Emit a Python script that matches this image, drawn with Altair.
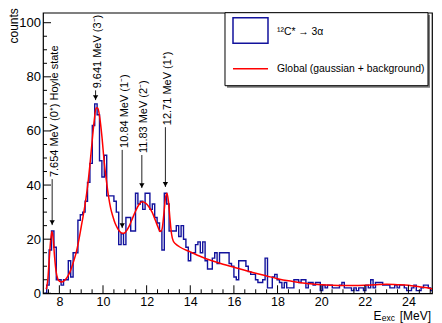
import altair as alt
import pandas as pd

# ---------------- data ----------------
bin_start = 7.31
bin_width = 0.11
counts = [0,
  3, 16, 23, 17, 5, 5, 3, 5, 5, 12,
  6, 15, 15, 27, 29, 30, 34, 41, 48, 62,
  70, 66, 49, 43, 51, 36, 36, 36, 34, 30,
  18, 22, 18, 28, 28, 23, 23, 37, 33, 34,
  31, 37, 37, 31, 33, 28, 26, 23, 16, 37,
  33, 23, 23, 23, 25, 21, 25, 20, 17, 12,
  15, 15, 18, 19, 15, 19, 12, 9, 9, 13,
  15, 11, 15, 15, 15, 15, 11, 10, 6, 5,
  12, 12, 12, 10, 8, 7, 7, 5, 4, 4,
  5, 13, 2, 2, 6, 7, 5, 4, 2, 4,
  2, 2, 2, 5, 5, 4, 5, 5, 2, 4,
  4, 3, 4, 4, 1, 3, 2, 3, 3, 2,
  2, 2, 3, 4, 2, 2, 2, 1, 2, 1,
  2, 2, 1, 3, 2, 5, 2, 4, 4, 4,
  3, 3, 3, 2, 2, 3, 2, 3, 3, 2,
  1, 1, 2, 3, 1, 1, 2, 3, 3, 2, 1]

fit_e = [7.40, 7.47, 7.54, 7.60, 7.66, 7.72, 7.78, 7.85, 7.92, 8.00,
         8.10, 8.20, 8.30, 8.40, 8.50, 8.60, 8.70, 8.80, 8.90, 9.00,
         9.10, 9.20, 9.30, 9.40, 9.50, 9.60, 9.68, 9.76, 9.85, 9.95,
         10.05, 10.15, 10.25, 10.35, 10.45, 10.55, 10.65, 10.75, 10.85, 10.95,
         11.05, 11.20, 11.35, 11.50, 11.65, 11.80, 11.95, 12.10, 12.25, 12.40,
         12.52, 12.62, 12.70, 12.78, 12.86, 12.93, 13.00, 13.07, 13.14, 13.22,
         13.32, 13.50, 14.00, 14.50, 15.00, 15.50, 16.00, 16.50, 17.00, 17.50,
         18.00, 18.50, 19.00, 19.50, 20.00, 20.50, 21.00, 21.50, 22.00, 22.50,
         23.00, 23.50, 24.00, 24.50, 25.00, 25.10]
fit_v = [1.5, 5, 13, 19.5, 22.8, 20, 13.5, 8, 5.5, 4.5,
         4.2, 4.5, 5.3, 6.5, 8.2, 10.5, 13, 16, 20, 24.5,
         29, 34, 40, 47.5, 56, 64, 68.5, 68.5, 65, 58,
         49, 42, 36, 31.5, 28.5, 26, 24.3, 23, 22.3, 22.2,
         22.8, 24.8, 27.7, 30.5, 32.8, 33.8, 33.3, 32, 30, 27,
         24.5, 22.8, 23.5, 28.5, 35, 37, 34, 27.5, 22, 19.3,
         18.3, 17.2, 15.3, 13.5, 12, 10.7, 9.6, 8.5, 7.4, 6.4,
         5.4, 4.6, 4.0, 3.5, 3.2, 3.0, 2.9, 2.9, 3.0, 3.2,
         3.3, 3.2, 3.0, 2.4, 1.8, 1.6]

arrow_e = [7.67, 9.66, 10.88, 11.78, 12.86]
arrow_top = [42.2, 75.0, 53.0, 51.1, 61.4]
arrow_tip = [25.2, 71.4, 24.1, 38.9, 39.3]
arrow_labels = ["7.654 MeV (0\u207a) Hoyle state", "9.641 MeV (3\u207b)",
                "10.84 MeV (1\u207b)", "11.83 MeV (2\u207b)", "12.71 MeV (1\u207a)"]

x_major = [8, 10, 12, 14, 16, 18, 20, 22, 24]
x_minor = [7.5, 8.5, 9, 9.5, 10.5, 11, 11.5, 12.5, 13, 13.5, 14.5, 15, 15.5,
           16.5, 17, 17.5, 18.5, 19, 19.5, 20.5, 21, 21.5, 22.5, 23, 23.5, 24.5, 25]
y_major = [0, 20, 40, 60, 80, 100]
y_minor = [5, 10, 15, 25, 30, 35, 45, 50, 55, 65, 70, 75, 85, 90, 95]

legend_labels = ["\u00b9\u00b2C* \u2192 3\u03b1", "Global (gaussian + background)"]

# ---------------- frames ----------------
edges = [round(bin_start + bin_width * i, 4) for i in range(len(counts) + 1)]
hist_df = pd.DataFrame({"E": edges, "N": counts + [counts[-1]]})
fit_df = pd.DataFrame({"E": fit_e, "F": fit_v})
arr_df = pd.DataFrame({"E": arrow_e, "top": arrow_top, "tip": arrow_tip, "label": arrow_labels})
xmaj_df = pd.DataFrame({"t": x_major})
xmin_df = pd.DataFrame({"t": x_minor})
ymaj_df = pd.DataFrame({"t": y_major})
ymin_df = pd.DataFrame({"t": y_minor})
one = pd.DataFrame({"k": [0]})

FONT = "Liberation Sans"
BLUE = "#12129c"
W, H = 389, 280.6
LX = W - 395  # legend shift relative to a 395-px wide plot

xs = alt.Scale(domain=[7.25, 25.08], nice=False, zero=False)
ys = alt.Scale(domain=[0, 103.7], nice=False, zero=False)
xaxis = alt.Axis(values=x_major, format="d", title=None, ticks=False, tickSize=0,
                 domain=False, grid=False, labelPadding=2, labelFontSize=12.5,
                 labelFont=FONT, labelColor="black")
yaxis = alt.Axis(values=y_major, format="d", title=None, ticks=False, tickSize=0,
                 domain=False, grid=False, labelPadding=2.5, labelFontSize=13,
                 labelFont=FONT, labelColor="black")

hist = alt.Chart(hist_df).mark_line(interpolate="step-after", color=BLUE,
                                    strokeWidth=1.4, clip=True).encode(
    x=alt.X("E:Q", scale=xs, axis=xaxis), y=alt.Y("N:Q", scale=ys, axis=yaxis))

fit = alt.Chart(fit_df).mark_line(interpolate="monotone", color="#ff0000",
                                  strokeWidth=1.5, clip=True).encode(
    x=alt.X("E:Q", scale=xs, axis=xaxis), y=alt.Y("F:Q", scale=ys, axis=yaxis))

arr_line = alt.Chart(arr_df).mark_rule(color="#222222", strokeWidth=1).encode(
    x=alt.X("E:Q", scale=xs, axis=xaxis), y=alt.Y("top:Q", scale=ys, axis=yaxis), y2="tip:Q")
arr_head = alt.Chart(arr_df).mark_point(shape="triangle-down", filled=True, color="black",
                                        size=28, opacity=1, yOffset=-2.6).encode(
    x=alt.X("E:Q", scale=xs, axis=xaxis), y=alt.Y("tip:Q", scale=ys, axis=yaxis))
arr_text = alt.Chart(arr_df).mark_text(angle=270, align="left", baseline="middle",
                                       fontSize=11, font=FONT, color="black",
                                       dx=2, dy=2.5).encode(
    x=alt.X("E:Q", scale=xs, axis=xaxis), y=alt.Y("top:Q", scale=ys, axis=yaxis),
    text="label:N")

xtick_maj = alt.Chart(xmaj_df).mark_rule(color="black", strokeWidth=1).encode(
    x=alt.X("t:Q", scale=xs, axis=xaxis), y=alt.value(H), y2=alt.value(H - 8))
xtick_min = alt.Chart(xmin_df).mark_rule(color="black", strokeWidth=1, clip=True).encode(
    x=alt.X("t:Q", scale=xs, axis=xaxis), y=alt.value(H), y2=alt.value(H - 4))
ytick_maj = alt.Chart(ymaj_df).mark_rule(color="black", strokeWidth=1).encode(
    y=alt.Y("t:Q", scale=ys, axis=yaxis), x=alt.value(0), x2=alt.value(8))
ytick_min = alt.Chart(ymin_df).mark_rule(color="black", strokeWidth=1).encode(
    y=alt.Y("t:Q", scale=ys, axis=yaxis), x=alt.value(0), x2=alt.value(4))

# legend (drawn by hand, ROOT style)
leg_shadow = alt.Chart(one).mark_rect(fill="#7a7a7a").encode(
    x=alt.value(190 + LX), x2=alt.value(393 + LX), y=alt.value(2), y2=alt.value(75))
leg_box = alt.Chart(one).mark_rect(fill="white", stroke="black", strokeWidth=1).encode(
    x=alt.value(188 + LX), x2=alt.value(391 + LX), y=alt.value(0), y2=alt.value(73))
leg_blue = alt.Chart(one).mark_rect(fill="white", stroke=BLUE, strokeWidth=1.5).encode(
    x=alt.value(196 + LX), x2=alt.value(231 + LX), y=alt.value(5), y2=alt.value(30.5))
leg_red = alt.Chart(one).mark_rule(color="#ff0000", strokeWidth=1.5).encode(
    x=alt.value(196 + LX), x2=alt.value(231 + LX), y=alt.value(56))
leg_t1 = alt.Chart(one).mark_text(text=legend_labels[0], align="left", baseline="middle",
                                  fontSize=10.4, font=FONT, color="black").encode(
    x=alt.value(240 + LX), y=alt.value(19.5))
leg_t2 = alt.Chart(one).mark_text(text=legend_labels[1], align="left", baseline="middle",
                                  fontSize=10.4, font=FONT, color="black").encode(
    x=alt.value(240 + LX), y=alt.value(56.5))

# axis titles
ytitle = alt.Chart(one).mark_text(text="counts", angle=270, align="right", baseline="top",
                                  fontSize=12, font=FONT, color="black").encode(
    x=alt.value(-34), y=alt.value(-4.5))
xt_E = alt.Chart(one).mark_text(text="E", align="right", baseline="alphabetic",
                                fontSize=12, font=FONT, color="black").encode(
    x=alt.value(344.5 + LX), y=alt.value(307.3))
xt_sub = alt.Chart(one).mark_text(text="exc", align="left", baseline="alphabetic",
                                  fontSize=8.5, font=FONT, color="black").encode(
    x=alt.value(344.8 + LX), y=alt.value(308.5))
xt_unit = alt.Chart(one).mark_text(text="[MeV]", align="right", baseline="alphabetic",
                                   fontSize=12, font=FONT, color="black").encode(
    x=alt.value(394 + LX), y=alt.value(307.3))

chart = alt.layer(
    hist, fit, xtick_maj, xtick_min, ytick_maj, ytick_min,
    arr_line, arr_head, arr_text,
    leg_shadow, leg_box, leg_blue, leg_red, leg_t1, leg_t2,
    ytitle, xt_E, xt_sub, xt_unit,
).properties(
    width=W, height=H,
    padding={"left": 35, "top": 4.7, "right": 2, "bottom": 29.6},
    autosize=alt.AutoSizeParams(type="none"),
).configure_view(stroke="black", strokeWidth=1.2)

chart.save("out.html", embed_options={"renderer": "svg", "actions": False})
